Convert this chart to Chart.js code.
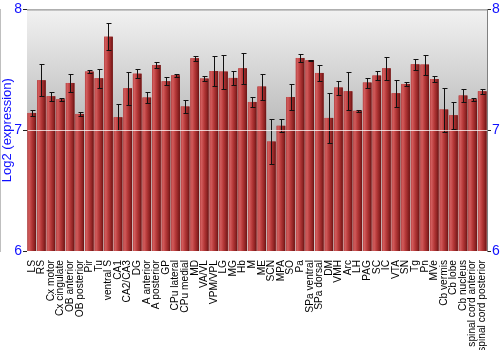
<!DOCTYPE html>
<html lang="en">
<head>
<meta charset="UTF-8">
<title>Log2 expression by region</title>
<script src="https://cdn.jsdelivr.net/npm/chart.js"></script>
<style>
  html, body { margin: 0; padding: 0; background: #fff; }
  canvas { display: block; }
</style>
</head>
<body>
<canvas id="chart" width="500" height="350"></canvas>
<script>
const regions = ['LS', 'RS', 'Cx motor', 'Cx cingulate', 'OB anterior', 'OB posterior', 'Pir', 'Tu',
  'ventral S', 'CA1', 'CA2/CA3', 'DG', 'A anterior', 'A posterior', 'GP', 'CPu lateral', 'CPu medial',
  'MD', 'VA/VL', 'VPM/VPL', 'LG', 'MG', 'Hb', 'M', 'ME', 'SCN', 'MPA', 'SO', 'Pa', 'SPa ventral',
  'SPa dorsal', 'DM', 'VMH', 'Arc', 'LH', 'PAG', 'SC', 'IC', 'VTA', 'SN', 'Tg', 'Pn', 'MVe',
  'Cb vermis', 'Cb lobe', 'Cb nucleus', 'spinal cord anterior', 'spinal cord posterior'];

const expression = [7.143, 7.413, 7.281, 7.256, 7.391, 7.135, 7.485, 7.430,
  7.774, 7.107, 7.347, 7.468, 7.270, 7.540, 7.405, 7.455, 7.196,
  7.595, 7.427, 7.490, 7.485, 7.433, 7.512, 7.234, 7.361, 6.906, 7.036, 7.275, 7.598, 7.579,
  7.474, 7.102, 7.353, 7.322, 7.160, 7.394, 7.452, 7.512, 7.306, 7.383, 7.545, 7.543, 7.424,
  7.171, 7.124, 7.287, 7.256, 7.322];

const errs = [0.025, 0.132, 0.036, 0.011, 0.078, 0.018, 0.011, 0.077,
  0.114, 0.106, 0.138, 0.037, 0.048, 0.025, 0.034, 0.011, 0.056,
  0.019, 0.019, 0.124, 0.140, 0.056, 0.131, 0.043, 0.107, 0.183, 0.055, 0.106, 0.030, 0.006,
  0.063, 0.208, 0.058, 0.158, 0.006, 0.041, 0.040, 0.094, 0.113, 0.017, 0.044, 0.083, 0.025,
  0.182, 0.113, 0.050, 0.014, 0.019];

const yMin = 6, yMax = 8, yStep = 1;

const blue = '#1010ff';
const font = 'Arial, "Liberation Sans", sans-serif';

// grey backdrop behind the plot
const backdrop = {
  id: 'backdrop',
  beforeDraw(chart) {
    const { ctx, chartArea: a } = chart;
    ctx.save();
    ctx.fillStyle = '#fff';
    ctx.fillRect(0, 0, chart.width, chart.height);
    const y7 = chart.scales.y.getPixelForValue(7);
    const g = ctx.createLinearGradient(0, a.top, 0, a.bottom);
    const mid = (y7 - a.top) / (a.bottom - a.top);
    g.addColorStop(0, '#f2f2f2');
    g.addColorStop(mid, '#b9b9b9');
    g.addColorStop(1, '#d8d8d8');
    ctx.fillStyle = g;
    ctx.fillRect(a.left, a.top, a.right - a.left, a.bottom - a.top);
    ctx.restore();
  },
  afterDraw(chart) {
    const { ctx, chartArea: a } = chart;
    ctx.save();
    ctx.strokeStyle = '#808080';
    ctx.lineWidth = 1;
    ctx.beginPath();
    ctx.moveTo(a.left, a.top + 0.5);
    ctx.lineTo(a.right, a.top + 0.5);
    ctx.stroke();
    ctx.restore();
  }
};

// cylinder shading on bars + error bars
const shading = {
  id: 'shading',
  afterDatasetsDraw(chart) {
    const { ctx, chartArea: a } = chart;
    const meta = chart.getDatasetMeta(0);
    const ys = chart.scales.y;
    ctx.save();
    ctx.beginPath();
    ctx.rect(a.left, a.top, a.right - a.left, a.bottom - a.top);
    ctx.clip();
    meta.data.forEach(bar => {
      const { x, y, width } = bar.getProps(['x', 'y', 'width'], true);
      const left = x - width / 2;
      const g = ctx.createLinearGradient(left, 0, left + width, 0);
      g.addColorStop(0, '#b84444');
      g.addColorStop(0.18, '#d25c5c');
      g.addColorStop(0.5, '#b53838');
      g.addColorStop(0.82, '#8c2222');
      g.addColorStop(1, '#661212');
      ctx.fillStyle = g;
      ctx.fillRect(left, y, width, a.bottom - y);
    });
    ctx.strokeStyle = '#111';
    ctx.lineWidth = 1;
    meta.data.forEach((bar, i) => {
      const x = Math.round(bar.x) + 0.5;
      const top = Math.round(ys.getPixelForValue(expression[i] + errs[i])) + 0.5;
      const bot = Math.round(ys.getPixelForValue(expression[i] - errs[i])) + 0.5;
      ctx.beginPath();
      ctx.moveTo(x, top); ctx.lineTo(x, bot);
      ctx.moveTo(x - 2, top); ctx.lineTo(x + 3, top);
      ctx.moveTo(x - 2, bot); ctx.lineTo(x + 3, bot);
      ctx.stroke();
    });
    ctx.restore();
  }
};

new Chart(document.getElementById('chart'), {
  type: 'bar',
  data: {
    labels: regions,
    datasets: [{
      data: expression,
      backgroundColor: '#b03535',
      barPercentage: 0.9,
      categoryPercentage: 1
    }]
  },
  options: {
    responsive: false,
    animation: false,
    layout: { padding: { top: 9, left: 0, right: 0, bottom: 0 } },
    plugins: { legend: { display: false }, tooltip: { enabled: false } },
    scales: {
      x: {
        grid: { display: false },
        border: { display: false },
        ticks: {
          autoSkip: false, maxRotation: 90, minRotation: 90, padding: 1,
          color: '#000', font: { family: font, size: 10.2 }
        },
        afterFit(s) { s.height = 99; }
      },
      y: {
        position: 'left',
        min: yMin, max: yMax,
        ticks: { stepSize: yStep, color: blue, padding: 1, font: { family: font, size: 14 } },
        title: { display: true, text: 'Log2 (expression)', color: blue, padding: 0, font: { family: font, size: 13 } },
        grid: {
          z: 1,
          tickLength: 4,
          color: c => c.tick && c.tick.value === 7 ? 'rgba(255,255,255,0.75)' : 'rgba(0,0,0,0)',
          tickColor: '#222'
        },
        border: { color: '#808080' },
        afterFit(s) { s.width = 27; }
      },
      y2: {
        position: 'right',
        min: yMin, max: yMax,
        ticks: { stepSize: yStep, color: blue, padding: 1, font: { family: font, size: 14 } },
        grid: { drawOnChartArea: false, tickLength: 4, tickColor: '#222' },
        border: { color: '#808080' },
        afterFit(s) { s.width = 13; }
      }
    }
  },
  plugins: [backdrop, shading]
});
</script>
</body>
</html>
